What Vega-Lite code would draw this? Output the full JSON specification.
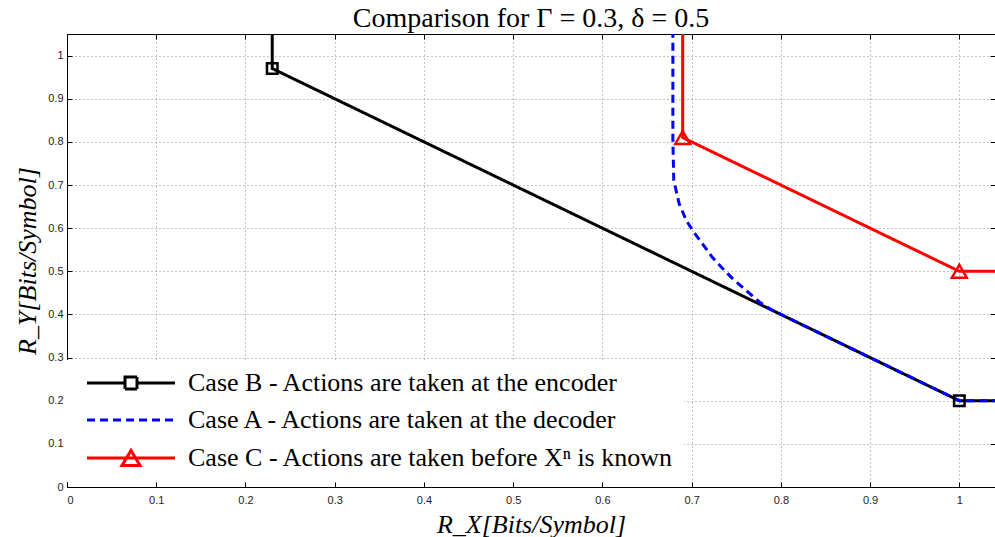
{
  "$schema": "https://vega.github.io/schema/vega-lite/v6.json",
  "width": 928,
  "height": 453,
  "autosize": {"type": "none"},
  "padding": {"left": 67, "top": 34, "right": 0, "bottom": 50},
  "background": "white",
  "title": {"text": "Comparison for Γ = 0.3, δ = 0.5", "font": "'Liberation Serif', 'Times New Roman', 'DejaVu Serif', serif", "fontSize": 28, "fontWeight": "normal", "color": "black", "offset": 1, "anchor": "middle"},
  "config": {
    "view": {"stroke": "black", "strokeWidth": 1},
    "axis": {
      "domainColor": "black", "tickColor": "black", "tickWidth": 1,
      "gridColor": "#888", "gridDash": [1, 3], "gridOpacity": 1,
      "labelFont": "'Liberation Sans', Arial, sans-serif", "labelFontSize": 11, "labelColor": "#222",
      "titleFont": "'Liberation Serif', 'Times New Roman', 'DejaVu Serif', serif", "titleFontStyle": "italic", "titleFontWeight": "normal", "titleFontSize": 26, "titleColor": "black"
    }
  },
  "datasets": {
    "curves": [
      {"case": "Case B - Actions are taken at the encoder", "i": 0, "x": 0.23, "y": 1.06},
      {"case": "Case B - Actions are taken at the encoder", "i": 1, "x": 0.23, "y": 0.97},
      {"case": "Case B - Actions are taken at the encoder", "i": 2, "x": 1.0, "y": 0.2},
      {"case": "Case B - Actions are taken at the encoder", "i": 3, "x": 1.05, "y": 0.2},
      {"case": "Case A - Actions are taken at the decoder", "i": 0, "x": 0.679, "y": 1.06},
      {"case": "Case A - Actions are taken at the decoder", "i": 1, "x": 0.679, "y": 0.804},
      {"case": "Case A - Actions are taken at the decoder", "i": 2, "x": 0.680, "y": 0.711},
      {"case": "Case A - Actions are taken at the decoder", "i": 3, "x": 0.686, "y": 0.657},
      {"case": "Case A - Actions are taken at the decoder", "i": 4, "x": 0.694, "y": 0.618},
      {"case": "Case A - Actions are taken at the decoder", "i": 5, "x": 0.701, "y": 0.595},
      {"case": "Case A - Actions are taken at the decoder", "i": 6, "x": 0.712, "y": 0.564},
      {"case": "Case A - Actions are taken at the decoder", "i": 7, "x": 0.723, "y": 0.533},
      {"case": "Case A - Actions are taken at the decoder", "i": 8, "x": 0.735, "y": 0.506},
      {"case": "Case A - Actions are taken at the decoder", "i": 9, "x": 0.746, "y": 0.483},
      {"case": "Case A - Actions are taken at the decoder", "i": 10, "x": 0.761, "y": 0.456},
      {"case": "Case A - Actions are taken at the decoder", "i": 11, "x": 0.776, "y": 0.429},
      {"case": "Case A - Actions are taken at the decoder", "i": 12, "x": 0.79, "y": 0.41},
      {"case": "Case A - Actions are taken at the decoder", "i": 13, "x": 1.0, "y": 0.2},
      {"case": "Case A - Actions are taken at the decoder", "i": 14, "x": 1.05, "y": 0.2},
      {"case": "Case C - Actions are taken before Xⁿ is known", "i": 0, "x": 0.69, "y": 1.06},
      {"case": "Case C - Actions are taken before Xⁿ is known", "i": 1, "x": 0.69, "y": 0.81},
      {"case": "Case C - Actions are taken before Xⁿ is known", "i": 2, "x": 1.0, "y": 0.5},
      {"case": "Case C - Actions are taken before Xⁿ is known", "i": 3, "x": 1.05, "y": 0.5}
    ],
    "markers": [
      {"case": "Case B - Actions are taken at the encoder", "x": 0.23, "y": 0.97},
      {"case": "Case B - Actions are taken at the encoder", "x": 1.0, "y": 0.2},
      {"case": "Case C - Actions are taken before Xⁿ is known", "x": 0.69, "y": 0.81},
      {"case": "Case C - Actions are taken before Xⁿ is known", "x": 1.0, "y": 0.5}
    ]
  },
  "layer": [
    {
      "data": {"name": "curves"},
      "mark": {"type": "line", "strokeWidth": 3, "clip": true, "strokeJoin": "miter"},
      "encoding": {
        "x": {"field": "x", "type": "quantitative", "scale": {"domain": [0, 1.04], "nice": false, "zero": false},
              "axis": {"orient": "bottom", "values": [0, 0.1, 0.2, 0.3, 0.4, 0.5, 0.6, 0.7, 0.8, 0.9, 1], "format": "~g", "grid": true, "tickSize": -5, "labelPadding": 12, "title": "R_X[Bits/Symbol]", "titlePadding": 6}},
        "y": {"field": "y", "type": "quantitative", "scale": {"domain": [0, 1.05], "nice": false, "zero": false},
              "axis": {"orient": "left", "values": [0, 0.1, 0.2, 0.3, 0.4, 0.5, 0.6, 0.7, 0.8, 0.9, 1], "format": "~g", "grid": true, "tickSize": -5, "labelPadding": 9, "title": "R_Y[Bits/Symbol]", "titlePadding": 7}},
        "order": {"field": "i", "type": "quantitative"},
        "color": {"field": "case", "type": "nominal",
          "scale": {"domain": ["Case B - Actions are taken at the encoder", "Case A - Actions are taken at the decoder", "Case C - Actions are taken before Xⁿ is known"], "range": ["#000000", "#0000ff", "#ff0000"]},
          "legend": {
            "title": null, "orient": "none", "legendX": 0, "legendY": 326,
            "fillColor": "white", "padding": 10, "symbolSize": 100, "symbolOffset": 41, "labelOffset": 44,
            "labelFont": "'Liberation Serif', 'Times New Roman', 'DejaVu Serif', serif", "labelFontSize": 26, "labelColor": "black", "rowPadding": 11, "labelLimit": 700,
            "symbolStrokeWidth": 3,
            "encode": {"symbols": {"update": {
              "shape": {"signal": "datum.value == 'Case B - Actions are taken at the encoder' ? 'M-8.8,0H-1.2M1.2,0H8.8M-1.2,-1.2H1.2V1.2H-1.2Z' : (datum.value == 'Case A - Actions are taken at the decoder' ? 'M-8.8,0H8.8' : 'M-8.8,0H8.8M0,-1.5L1.8,1.5H-1.8Z')"},
              "strokeDash": {"signal": "datum.value == 'Case A - Actions are taken at the decoder' ? [8,5] : [1,0]"},
              "strokeWidth": {"value": 3},
              "fill": {"value": "transparent"}
            }}}
          }},
        "strokeDash": {"field": "case", "type": "nominal",
          "scale": {"domain": ["Case B - Actions are taken at the encoder", "Case A - Actions are taken at the decoder", "Case C - Actions are taken before Xⁿ is known"], "range": [[1, 0], [8, 5], [1, 0]]},
          "legend": null}
      }
    },
    {
      "data": {"name": "markers"},
      "mark": {"type": "point", "filled": false, "strokeWidth": 2.5, "opacity": 1},
      "encoding": {
        "x": {"field": "x", "type": "quantitative", "axis": {"orient": "top", "values": [0, 0.1, 0.2, 0.3, 0.4, 0.5, 0.6, 0.7, 0.8, 0.9, 1], "labels": false, "grid": false, "domain": false, "tickSize": -5, "title": null}},
        "y": {"field": "y", "type": "quantitative", "axis": {"orient": "right", "values": [0, 0.1, 0.2, 0.3, 0.4, 0.5, 0.6, 0.7, 0.8, 0.9, 1], "labels": false, "grid": false, "domain": false, "tickSize": -5, "title": null}},
        "stroke": {"field": "case", "type": "nominal", "scale": {"domain": ["Case B - Actions are taken at the encoder", "Case C - Actions are taken before Xⁿ is known"], "range": ["#000000", "#ff0000"]}, "legend": null},
        "shape": {"field": "case", "type": "nominal", "scale": {"domain": ["Case B - Actions are taken at the encoder", "Case C - Actions are taken before Xⁿ is known"], "range": ["square", "triangle-up"]}, "legend": null},
        "size": {"field": "case", "type": "nominal", "scale": {"domain": ["Case B - Actions are taken at the encoder", "Case C - Actions are taken before Xⁿ is known"], "range": [110, 220]}, "legend": null}
      }
    }
  ]
}
